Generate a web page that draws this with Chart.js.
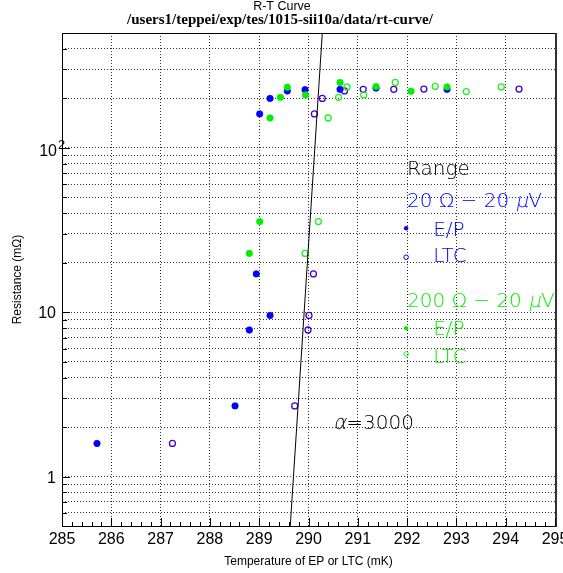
<!DOCTYPE html>
<html>
<head>
<meta charset="utf-8">
<script src="https://cdn.jsdelivr.net/npm/chart.js@4.4.1/dist/chart.umd.min.js"></script>
<style>
  html, body { margin: 0; padding: 0; background: #fff; }
</style>
</head>
<body>
<canvas id="rt" width="563" height="573"></canvas>
<script>
// 20 ohm range : E/P thermometer and LTC
const epBlueT = [285.71, 288.51, 288.80, 289.22, 288.94, 289.01, 289.22, 289.57, 289.93, 290.64, 291.37, 292.81]
const epBlueR = [1.59, 2.69, 7.79, 9.56, 17.1, 161, 200, 222, 226, 227, 231, 227]
const ltcBlueT = [287.24, 289.72, 289.99, 290.01, 290.10, 290.12, 290.28, 290.73, 291.11, 291.73, 292.34, 294.27]
const ltcBlueR = [1.59, 2.69, 7.79, 9.56, 17.1, 161, 200, 222, 227, 227, 228, 228]

// 200 ohm range
const epGreenT = [288.80, 289.01, 289.22, 289.43, 289.57, 289.94, 290.64, 291.37, 292.08, 292.81]
const epGreenR = [22.8, 35.6, 152, 203, 234, 210, 250, 236, 221, 235]
const ltcGreenT = [289.93, 290.20, 290.40, 290.61, 290.78, 291.12, 291.76, 292.57, 293.20, 293.91]
const ltcGreenR = [22.8, 35.6, 152, 203, 235, 210, 250, 237, 220, 235]

// alpha = 3000 guide line (end points)
const fitT = [289.63, 290.28]
const fitR = [0.5, 500]

const xTicks = [285, 286, 287, 288, 289, 290, 291, 292, 293, 294, 295]
const yTickValues = [1, 10, 100]
const yTickLabels = ['1', '10', '10^2']

const blue = '#0000ff'
const purple = '#4400cc'
const green = '#00ee00'
const lightGreen = '#22ee22'

// log grid: 2..9 in every decade inside 0.5 .. 500
const yGrid = []
for (const d of [0.1, 1, 10, 100]) {
  for (let k = 1; k <= 9; k++) {
    const v = +(k * d).toPrecision(2)
    if (v > 0.5 && v < 500) yGrid.push(v)
  }
}

const pts = (xs, ys) => xs.map((x, i) => ({ x, y: ys[i] }))

const legendFont = '200 20px "DejaVu Sans"'

const decor = {
  id: 'decor',
  afterDraw(chart) {
    const { ctx, chartArea: a, scales: { x, y } } = chart
    ctx.save()

    // frame
    ctx.strokeStyle = '#000'
    ctx.lineWidth = 1
    ctx.beginPath()
    ctx.moveTo(a.left + 0.5, a.bottom + 0.5)
    ctx.lineTo(a.left + 0.5, a.top + 0.5)
    ctx.lineTo(a.right, a.top + 0.5)
    ctx.moveTo(a.left, a.bottom + 0.5)
    ctx.lineTo(a.right, a.bottom + 0.5)
    ctx.stroke()
    ctx.strokeStyle = '#333'
    ctx.lineWidth = 2
    ctx.beginPath()
    ctx.moveTo(a.right + 1, a.top)
    ctx.lineTo(a.right + 1, a.bottom + 1)
    ctx.stroke()

    // inward ticks
    ctx.strokeStyle = '#000'
    ctx.lineWidth = 1
    ctx.beginPath()
    for (let i = 0; i <= 50; i++) {
      const px = Math.round(x.getPixelForValue(285 + i * 0.2)) + 0.5
      const len = i % 5 === 0 ? 8 : 4
      ctx.moveTo(px, a.bottom)
      ctx.lineTo(px, a.bottom - len)
    }
    for (const v of yGrid) {
      const py = Math.round(y.getPixelForValue(v)) + 0.5
      const len = yTickValues.includes(v) ? 8 : 5
      ctx.moveTo(a.left, py)
      ctx.lineTo(a.left + len, py)
    }
    ctx.stroke()

    // y tick labels
    ctx.fillStyle = '#000'
    ctx.font = '16px "Liberation Sans"'
    ctx.textBaseline = 'alphabetic'
    yTickValues.forEach((v, i) => {
      const py = y.getPixelForValue(v)
      const [base, exp] = yTickLabels[i].split('^')
      ctx.textAlign = 'right'
      if (exp) {
        ctx.fillText(base, 57, py + 8)
        ctx.textAlign = 'left'
        ctx.font = '13px "Liberation Sans"'
        ctx.fillText(exp, 58, py + 1)
        ctx.font = '16px "Liberation Sans"'
      } else {
        ctx.fillText(base, 56, py + 6)
      }
    })

    // titles
    ctx.textAlign = 'center'
    ctx.textBaseline = 'middle'
    ctx.font = '12.5px "Liberation Sans"'
    ctx.fillText('R-T Curve', 282, 7)
    ctx.font = 'bold 15px "Liberation Serif"'
    ctx.fillText('/users1/teppei/exp/tes/1015-sii10a/data/rt-curve/', 280, 20)

    // text box inside the frame (greek letters slanted by hand to keep the thin face)
    ctx.textBaseline = 'alphabetic'
    ctx.textAlign = 'left'
    ctx.font = legendFont
    const runs = (parts, t, r, color) => {
      let px = x.getPixelForValue(t)
      const py = y.getPixelForValue(r)
      ctx.fillStyle = color
      for (const [s, slant] of parts) {
        if (slant) {
          ctx.save()
          ctx.translate(px, py)
          ctx.transform(1, 0, -0.2, 1, 0, 0)
          ctx.fillText(s, 0, 0)
          ctx.restore()
        } else {
          ctx.fillText(s, px, py)
        }
        px += ctx.measureText(s).width
      }
    }
    const dot = (t, r, color, open) => {
      ctx.beginPath()
      ctx.arc(x.getPixelForValue(t), y.getPixelForValue(r), open ? 2.3 : 2.2, 0, Math.PI * 2)
      if (open) { ctx.strokeStyle = color; ctx.lineWidth = 1; ctx.stroke() }
      else { ctx.fillStyle = color; ctx.fill() }
    }
    runs([['Range']], 292.0, 68.4, '#000')
    runs([['20 Ω − 20 '], ['μ', true], ['V']], 292.0, 43.5, blue)
    dot(291.98, 32.4, blue, false)
    runs([['E/P']], 292.53, 29.1, blue)
    dot(291.98, 21.6, blue, true)
    runs([['LTC']], 292.53, 20.1, blue)
    runs([['200 Ω − 20 '], ['μ', true], ['V']], 292.0, 10.7, green)
    dot(291.98, 7.98, green, false)
    runs([['E/P']], 292.53, 7.26, green)
    dot(291.98, 5.57, lightGreen, true)
    runs([['LTC']], 292.53, 4.89, green)
    runs([['α', true], ['=3000']], 290.5, 1.94, '#000')

    ctx.restore()
  }
}

new Chart(document.getElementById('rt'), {
  type: 'scatter',
  data: {
    datasets: [
      { label: 'alpha=3000', data: pts(fitT, fitR), showLine: true, borderColor: '#000', borderWidth: 1, pointRadius: 0, order: 0 },
      { label: '200 ohm LTC', data: pts(ltcGreenT, ltcGreenR), pointRadius: 3, pointBorderWidth: 1.3,
        pointBackgroundColor: 'rgba(0,0,0,0)', pointBorderColor: lightGreen, order: 1 },
      { label: '200 ohm E/P', data: pts(epGreenT, epGreenR), pointRadius: 3.2, pointBorderWidth: 0.8,
        pointBackgroundColor: green, pointBorderColor: green, order: 2 },
      { label: '20 ohm LTC', data: pts(ltcBlueT, ltcBlueR), pointRadius: 3, pointBorderWidth: 1.3,
        pointBackgroundColor: 'rgba(0,0,0,0)', pointBorderColor: purple, order: 3 },
      { label: '20 ohm E/P', data: pts(epBlueT, epBlueR), pointRadius: 3.2, pointBorderWidth: 0.8,
        pointBackgroundColor: blue, pointBorderColor: blue, order: 4 }
    ]
  },
  options: {
    responsive: false,
    devicePixelRatio: 1,
    animation: false,
    events: [],
    layout: { padding: { top: 33, right: 8, left: 0, bottom: 0 } },
    plugins: {
      legend: { display: false },
      tooltip: { enabled: false }
    },
    scales: {
      x: {
        type: 'linear',
        min: 285,
        max: 295,
        afterFit: (s) => { s.height = 47; s.paddingLeft = 0; s.paddingRight = 0 },
        afterBuildTicks: (s) => { s.ticks = xTicks.map(v => ({ value: v })) },
        grid: { color: 'rgba(0,0,0,0.8)', lineWidth: 1, drawTicks: false },
        border: { display: false, dash: [1, 2] },
        ticks: {
          autoSkip: false,
          maxRotation: 0,
          padding: 4,
          color: '#000',
          font: { family: 'Liberation Sans', size: 16 },
          callback: (v) => String(v)
        },
        title: {
          display: true,
          text: 'Temperature of EP or LTC (mK)',
          color: '#000',
          font: { family: 'Liberation Sans', size: 12 },
          padding: { top: 0, bottom: 4 }
        }
      },
      y: {
        type: 'logarithmic',
        min: 0.5,
        max: 500,
        afterFit: (s) => { s.width = 62; s.paddingTop = 0; s.paddingBottom = 0 },
        afterBuildTicks: (s) => { s.ticks = yGrid.map(v => ({ value: v })) },
        grid: { color: 'rgba(0,0,0,0.8)', lineWidth: 1, drawTicks: false },
        border: { display: false, dash: [1, 2] },
        ticks: { display: false },
        title: {
          display: true,
          text: 'Resistance (mΩ)',
          color: '#000',
          font: { family: 'Liberation Sans', size: 12 },
          padding: { top: 10, bottom: 0 }
        }
      }
    }
  },
  plugins: [decor]
})
</script>
</body>
</html>
